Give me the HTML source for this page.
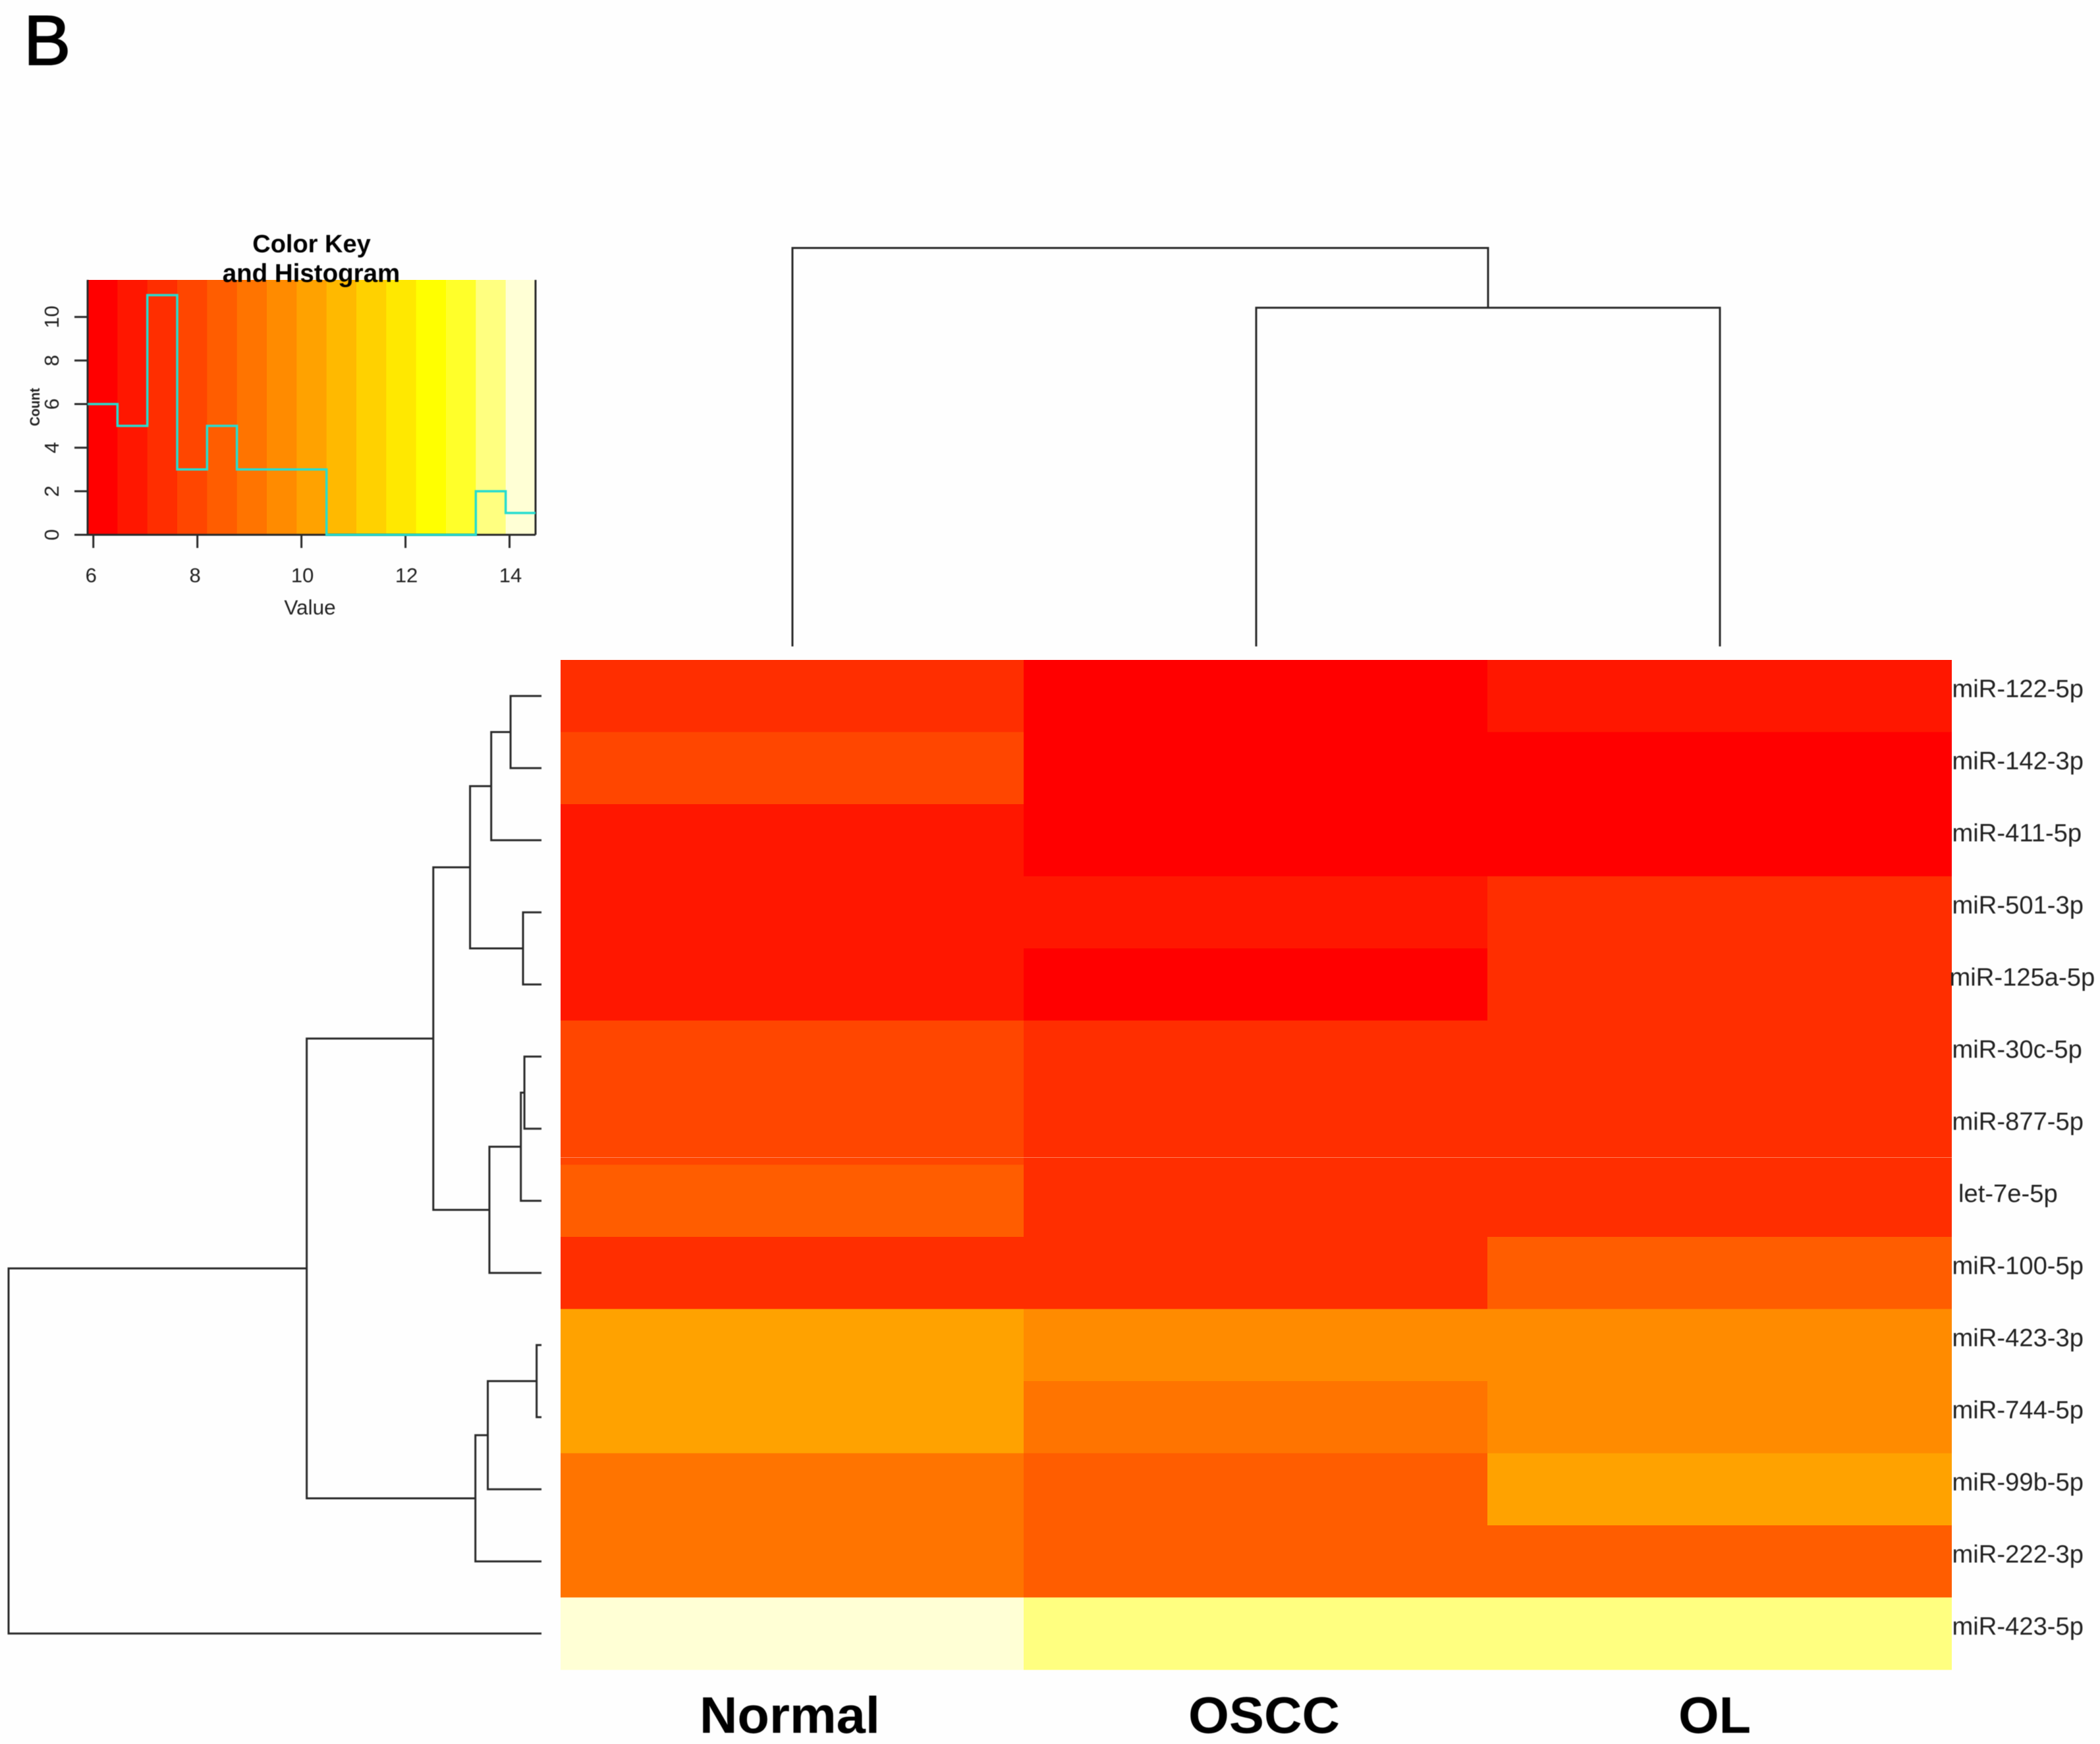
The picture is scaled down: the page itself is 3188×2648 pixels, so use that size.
<!DOCTYPE html>
<html lang="en">
<head>
<meta charset="utf-8">
<title>miRNA expression heatmap</title>
<style>
  html, body { margin: 0; padding: 0; background: #fefefe; }
  #stage { display: block; width: 3188px; height: 2648px; }
  text { font-family: "Liberation Sans", Arial, sans-serif; }
  .soft { filter: blur(0.6px); }
</style>
</head>
<body>
<svg id="stage" xmlns="http://www.w3.org/2000/svg" width="3188" height="2648" viewBox="0 0 3188 2648">
  <rect x="0" y="0" width="3188" height="2648" fill="#fefefe"/>
  <text x="36" y="98" font-size="107" fill="#000" stroke="#000" stroke-width="2" class="soft">B</text>

  <g id="key-fill"></g>
  <g id="key-axes" class="soft"></g>
  <g id="key-hist" class="soft"></g>
  <g class="soft">
    <text x="473" y="383" font-size="38" font-weight="700" text-anchor="middle" fill="#000">Color Key</text>
    <text x="472.5" y="428" font-size="38.5" font-weight="700" text-anchor="middle" fill="#000">and Histogram</text>
  </g>
  <text x="470.5" y="933" font-size="31.5" text-anchor="middle" fill="#222" class="soft">Value</text>
  <text transform="translate(60 618) rotate(-90)" font-size="21" font-weight="700" text-anchor="middle" textLength="58" lengthAdjust="spacingAndGlyphs" fill="#222" class="soft">Count</text>

  <g id="col-dendro" class="soft"></g>
  <g id="row-dendro" class="soft"></g>
  <g id="heat" shape-rendering="crispEdges"></g>
  <line x1="851" x2="2963" y1="1757.5" y2="1757.5" stroke="#ff9a78" stroke-opacity="0.75" stroke-width="1"/>
  <g id="row-labels" class="soft"></g>

  <g fill="#000" font-weight="700" font-size="78" text-anchor="middle" class="soft">
    <text x="1199" y="2631" textLength="274" lengthAdjust="spacingAndGlyphs">Normal</text>
    <text x="1919" y="2631" textLength="230" lengthAdjust="spacingAndGlyphs">OSCC</text>
    <text x="2603" y="2631" textLength="110" lengthAdjust="spacingAndGlyphs">OL</text>
  </g>
</svg>

<script>
/* ---------- data ---------- */
const rowLabels = ["miR-122-5p","miR-142-3p","miR-411-5p","miR-501-3p","miR-125a-5p","miR-30c-5p","miR-877-5p","let-7e-5p","miR-100-5p","miR-423-3p","miR-744-5p","miR-99b-5p","miR-222-3p","miR-423-5p"];
const columnNames = ["Normal","OSCC","OL"];
const valuesNormal = [7.33,7.9,6.75,6.75,6.75,7.9,7.9,8.47,7.33,10.2,10.2,9.05,9.05,14.21];
const valuesOSCC = [6.18,6.18,6.18,6.75,6.18,7.33,7.33,7.33,7.33,9.62,9.05,8.47,8.47,13.64];
const valuesOL = [6.75,6.18,6.18,7.33,7.33,7.33,7.33,7.33,8.47,9.62,9.62,10.2,8.47,13.64];
const palette = ["#FF0000","#FF1700","#FF2E00","#FF4600","#FF5D00","#FF7400","#FF8B00","#FFA200","#FFB900","#FFD100","#FFE800","#FFFF00","#FFFF2A","#FFFF80","#FFFFD5"];
const histCounts = [6,5,11,3,5,3,3,3,0,0,0,0,0,2,1];
const keyRange = [5.89,14.5];
const keyCountMax = 11.7;
const xTickValues = [6,8,10,12,14];
const yTickValues = [0,2,4,6,8,10];
/* hierarchical merges: [childA, childB, height]; non-negative = leaf index, "m<i>" = earlier merge */
const rowMerges = [
  [0,1,5.8],["m0",2,9.43],[3,4,3.46],["m1","m2",13.4],[5,6,3.2],["m4",7,3.87],["m5",8,9.77],
  ["m3","m6",20.3],[9,10,0.91],["m8",11,10.07],["m9",12,12.4],["m7","m10",44.05],["m11",13,100]
];
const colMerges = [[1,2,85],[0,"m0",100]];

/* ---------- scales ---------- */
const SVGNS = "http://www.w3.org/2000/svg";
const heatLeft = 851, heatRight = 2963, heatTop = 1002, heatBottom = 2535;
const colWidth = (heatRight - heatLeft) / columnNames.length;
const rowHeight = (heatBottom - heatTop) / rowLabels.length;
const colX = i => heatLeft + i * colWidth;
const colCenter = i => colX(i) + colWidth / 2;
const rowY = i => heatTop + i * rowHeight;
const rowCenter = i => rowY(i) + rowHeight / 2;

const keyLeft = 133, keyRight = 813, keyTop = 425, keyBottom = 812;
const keyX = v => keyLeft + (v - keyRange[0]) / (keyRange[1] - keyRange[0]) * (keyRight - keyLeft);
const keyY = c => keyBottom - c / keyCountMax * (keyBottom - keyTop);
const binWidth = (keyRange[1] - keyRange[0]) / palette.length;
const binEdge = k => keyRange[0] + k * binWidth;
const colorFor = v => palette[Math.max(0, Math.min(palette.length - 1, Math.floor((v - keyRange[0]) / binWidth)))];

const rowDendroX = h => 822 - h * 8.09;
const colDendroY = h => 981.5 - h * 6.05;

function make(parentId, tag, attrs) {
  const el = document.createElementNS(SVGNS, tag);
  Object.keys(attrs).forEach(k => el.setAttribute(k, attrs[k]));
  document.getElementById(parentId).appendChild(el);
  return el;
}

/* ---------- color key ---------- */
palette.forEach((color, k) => {
  const band = make("key-fill", "rect", {
    x: keyX(binEdge(k)), y: keyTop,
    width: keyX(binEdge(k + 1)) - keyX(binEdge(k)) + 0.5,
    height: keyBottom - keyTop, fill: color
  });
  
  
});

const axisStyle = { stroke: "#2a2a2a", "stroke-width": 3 };
[[keyLeft, keyTop, keyLeft, keyBottom], [keyRight, keyTop, keyRight, keyBottom], [113, keyBottom, keyRight, keyBottom]].forEach(p => {
  const ln = make("key-axes", "line", Object.assign({ x1: p[0], y1: p[1], x2: p[2], y2: p[3] }, axisStyle));
  
  
});
xTickValues.forEach(v => {
  const tick = make("key-axes", "line", Object.assign({ x1: keyX(v), y1: keyBottom, x2: keyX(v), y2: keyBottom + 20 }, axisStyle));
  
  
  const label = make("key-axes", "text", { x: keyX(v) + (v < 9 ? -3.5 : 1.5), y: 884, "font-size": 31, "text-anchor": "middle", fill: "#222" });
  label.textContent = String(v);
  
  
});
yTickValues.forEach(c => {
  const tick = make("key-axes", "line", Object.assign({ x1: 113, y1: keyY(c), x2: keyLeft, y2: keyY(c) }, axisStyle));
  
  
  const label = make("key-axes", "text", { transform: "translate(89 " + keyY(c) + ") rotate(-90)", "font-size": 31, "text-anchor": "middle", fill: "#222" });
  label.textContent = String(c);
  
  
});

let histPath = "M" + keyX(binEdge(0)) + " " + keyY(histCounts[0]);
histCounts.forEach((c, k) => {
  histPath += " L" + keyX(binEdge(k)) + " " + keyY(c) + " L" + keyX(binEdge(k + 1)) + " " + keyY(c);
});
const histLine = make("key-hist", "path", { d: histPath, fill: "none", stroke: "#26DCD0", "stroke-width": 3.5, "stroke-linejoin": "miter" });



/* ---------- heatmap ---------- */
[valuesNormal, valuesOSCC, valuesOL].forEach((series, c) => {
  series.forEach((v, r) => {
    const cell = make("heat", "rect", {
      x: colX(c) - (c > 0 ? 1 : 0), y: rowY(r), width: colWidth + 1, height: rowHeight + 0.5, fill: colorFor(v)
    });
    
    
    const tip = document.createElementNS(SVGNS, "title");
    tip.textContent = rowLabels[r] + " / " + columnNames[c] + ": " + v;
    cell.appendChild(tip);
  });
});

/* ---------- row labels ---------- */
rowLabels.forEach((name, r) => {
  const startX = name.indexOf("let") === 0 ? 2973 : (name.indexOf("125a") >= 0 ? 2959.5 : 2963.5);
  const label = make("row-labels", "text", { x: startX, y: rowCenter(r) + 1.5, "font-size": 38.2, fill: "#222" });
  label.textContent = name;
  
  
});

/* ---------- dendrograms ---------- */
function drawRowTree(merges) {
  const nodes = {};
  const pos = ref => {
    if (typeof ref === "number") return { along: rowCenter(ref), depth: rowDendroX(0) };
    return nodes[ref];
  };
  merges.forEach((m, i) => {
    const a = pos(m[0]), b = pos(m[1]), x = rowDendroX(m[2]);
    const d = "M" + a.depth + " " + a.along + " L" + x + " " + a.along + " L" + x + " " + b.along + " L" + b.depth + " " + b.along;
    const link = make("row-dendro", "path", { d: d, fill: "none", stroke: "#2a2a2a", "stroke-width": 3 });
    
    
    nodes["m" + i] = { along: (a.along + b.along) / 2, depth: x };
  });
}
function drawColTree(merges) {
  const nodes = {};
  const pos = ref => {
    if (typeof ref === "number") return { along: colCenter(ref), depth: colDendroY(0) };
    return nodes[ref];
  };
  merges.forEach((m, i) => {
    const a = pos(m[0]), b = pos(m[1]), y = colDendroY(m[2]);
    const d = "M" + a.along + " " + a.depth + " L" + a.along + " " + y + " L" + b.along + " " + y + " L" + b.along + " " + b.depth;
    const link = make("col-dendro", "path", { d: d, fill: "none", stroke: "#2a2a2a", "stroke-width": 3 });
    
    
    nodes["m" + i] = { along: (a.along + b.along) / 2, depth: y };
  });
}
drawRowTree(rowMerges);
drawColTree(colMerges);
</script>
</body>
</html>
